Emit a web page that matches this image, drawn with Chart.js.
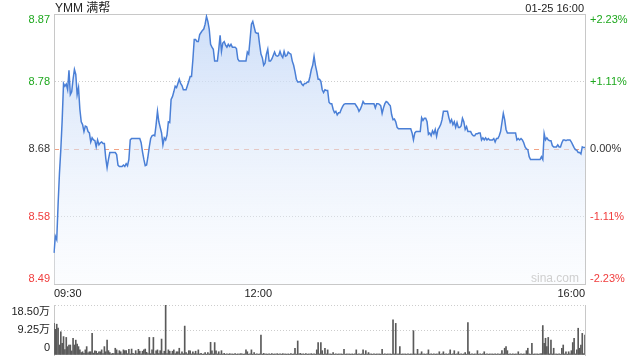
<!DOCTYPE html>
<html><head><meta charset="utf-8">
<script src="https://cdn.jsdelivr.net/npm/chart.js@4.4.1/dist/chart.umd.min.js"></script>
<style>
html,body{margin:0;padding:0;background:#fff;width:640px;height:360px;overflow:hidden;}
#wrap{position:relative;width:640px;height:360px;font-family:"Liberation Sans",Arial,"Noto Sans CJK SC",sans-serif;}
.t{position:absolute;white-space:nowrap;}
</style></head><body>
<div id="wrap">
<canvas id="pc" width="640" height="300" style="position:absolute;left:0;top:0;"></canvas>
<canvas id="vc" width="640" height="64" style="position:absolute;left:0;top:296px;"></canvas>
<div class="t" style="left:55px;top:1px;font-size:12px;line-height:14px;color:#222;">YMM 满帮</div>
<div class="t" style="right:56px;top:1px;font-size:11px;line-height:14px;color:#222;">01-25 16:00</div>
<div class="t" style="left:531px;top:271px;font-size:12px;line-height:14px;color:#cfcfcf;">sina.com</div>
</div>
<script>
// ---- data ----
const symbol = 'YMM 满帮';
const prevClose = 8.68;
const pctRange = 2.23;
const priceTickLabels = ['8.49','8.58','8.68','8.78','8.87'];
const pctTickLabels = ['-2.23%','-1.11%','0.00%','+1.11%','+2.23%'];
const xTickLabels = {0:'09:30',150:'12:00',390:'16:00'};
const volTickValues = [0, 9.25, 18.5];
const volTickLabels = ['0','9.25万','18.50万'];

// one price per minute, 09:30 .. 16:00
const prices = [
8.531,8.555,8.550,8.600,8.645,8.679,8.721,8.774,8.770,8.773,
8.765,8.793,8.758,8.762,8.780,8.794,8.787,8.758,8.768,8.737,
8.719,8.715,8.705,8.713,8.712,8.705,8.703,8.690,8.696,8.693,
8.692,8.683,8.693,8.686,8.689,8.690,8.688,8.688,8.667,8.653,
8.665,8.675,8.675,8.675,8.675,8.675,8.672,8.657,8.655,8.655,
8.655,8.657,8.655,8.659,8.656,8.665,8.693,8.695,8.695,8.695,
8.695,8.695,8.695,8.695,8.689,8.676,8.665,8.656,8.657,8.669,
8.683,8.695,8.699,8.700,8.699,8.715,8.734,8.719,8.711,8.703,
8.686,8.696,8.693,8.700,8.719,8.718,8.751,8.755,8.762,8.770,
8.768,8.774,8.780,8.774,8.771,8.765,8.765,8.765,8.771,8.777,
8.784,8.784,8.808,8.837,8.837,8.834,8.834,8.844,8.847,8.850,
8.852,8.859,8.870,8.863,8.852,8.830,8.826,8.823,8.806,8.806,
8.806,8.823,8.843,8.820,8.832,8.834,8.829,8.826,8.830,8.827,
8.830,8.826,8.826,8.826,8.824,8.809,8.806,8.806,8.806,8.806,
8.806,8.806,8.819,8.816,8.837,8.859,8.863,8.855,8.847,8.846,
8.846,8.830,8.816,8.811,8.800,8.803,8.816,8.823,8.806,8.806,
8.809,8.814,8.819,8.814,8.813,8.814,8.820,8.814,8.811,8.820,
8.813,8.814,8.819,8.817,8.816,8.806,8.800,8.791,8.780,8.776,
8.776,8.777,8.773,8.771,8.774,8.774,8.776,8.776,8.784,8.794,
8.800,8.813,8.800,8.791,8.780,8.780,8.777,8.765,8.761,8.765,
8.764,8.764,8.747,8.745,8.745,8.737,8.732,8.734,8.729,8.732,
8.732,8.737,8.741,8.744,8.745,8.745,8.745,8.745,8.745,8.745,
8.745,8.745,8.742,8.739,8.734,8.737,8.742,8.748,8.745,8.745,
8.745,8.745,8.745,8.745,8.745,8.745,8.739,8.745,8.745,8.744,
8.742,8.731,8.739,8.745,8.748,8.747,8.744,8.742,8.729,8.722,
8.723,8.719,8.711,8.709,8.709,8.709,8.709,8.709,8.709,8.709,
8.709,8.709,8.709,8.703,8.693,8.703,8.705,8.705,8.705,8.705,
8.725,8.721,8.724,8.724,8.719,8.701,8.703,8.699,8.706,8.702,
8.708,8.698,8.708,8.711,8.715,8.722,8.734,8.734,8.734,8.734,
8.725,8.718,8.722,8.715,8.719,8.711,8.718,8.711,8.711,8.713,
8.724,8.719,8.708,8.712,8.705,8.705,8.705,8.701,8.699,8.699,
8.702,8.702,8.703,8.703,8.693,8.696,8.693,8.696,8.693,8.695,
8.693,8.693,8.693,8.695,8.690,8.695,8.695,8.699,8.705,8.718,
8.731,8.722,8.708,8.703,8.703,8.703,8.703,8.703,8.703,8.703,
8.693,8.695,8.693,8.695,8.693,8.689,8.683,8.680,8.679,8.669,
8.665,8.665,8.665,8.665,8.665,8.665,8.665,8.665,8.669,8.665,
8.702,8.693,8.696,8.693,8.692,8.692,8.685,8.683,8.683,8.683,
8.686,8.683,8.683,8.689,8.693,8.693,8.692,8.693,8.693,8.693,
8.690,8.686,8.682,8.679,8.678,8.675,8.675,8.673,8.683,8.682,
8.682
];

// volume per minute, in 万 shares
const volumes = [
11.7,9.5,11.4,10.0,3.7,8.6,4.3,6.8,2.0,6.5,
3.1,3.7,3.7,1.5,6.2,3.7,5.5,4.0,3.1,1.9,
0.9,1.2,0.6,1.9,3.1,0.8,1.2,1.2,8.0,0.7,
1.5,1.4,0.6,1.2,1.2,1.9,0.5,3.1,1.2,5.5,
1.6,0.9,0.4,0.6,0.5,2.5,1.9,0.5,1.6,1.2,
0.4,1.9,1.6,1.6,0.5,2.1,0.4,2.2,0.6,0.4,
1.6,0.5,2.1,1.4,0.4,1.4,1.9,2.2,1.0,0.5,
6.5,0.5,1.9,6.5,0.4,1.5,1.9,0.5,1.6,5.9,
0.5,1.4,18.5,0.5,1.9,1.4,0.4,1.4,1.9,0.5,
1.2,1.2,2.5,0.4,1.2,0.5,10.7,0.9,0.4,1.6,
1.5,0.4,1.2,0.5,1.4,0.4,1.9,0.4,0.6,0.3,
0.4,0.9,0.3,0.9,0.4,4.7,1.5,0.4,4.6,1.5,
0.4,1.2,0.3,1.6,0.3,0.6,0.3,0.4,0.3,0.5,
0.3,0.4,0.3,0.5,0.3,0.4,0.3,0.5,0.4,0.3,
0.4,1.9,1.2,0.3,0.4,1.9,0.3,0.9,0.3,0.4,
0.3,0.4,7.4,0.3,0.6,0.3,0.4,0.3,0.4,0.3,
0.5,0.3,0.4,0.3,0.5,0.3,0.4,0.3,0.5,0.3,
0.4,0.3,0.4,0.3,0.5,0.3,0.4,2.5,0.3,5.2,
0.4,0.6,0.3,0.4,0.3,0.5,0.3,0.4,0.3,0.5,
0.3,0.4,0.3,1.9,4.6,0.4,4.6,1.6,0.3,2.5,
0.4,1.9,0.3,0.4,0.3,0.9,0.3,0.4,0.3,0.4,
0.3,0.4,0.3,2.1,0.3,0.4,0.3,0.4,0.3,0.4,
0.3,0.4,1.9,0.3,0.4,0.3,0.4,1.9,0.3,1.6,
0.3,0.9,0.3,0.4,0.3,0.4,0.3,0.4,0.3,0.4,
0.3,2.1,0.3,0.4,0.3,0.4,0.3,0.4,0.3,13.0,
0.4,11.7,0.3,0.4,3.1,0.3,0.4,0.3,0.4,0.3,
0.4,0.3,0.4,0.3,9.0,0.4,0.3,2.1,0.3,0.4,
1.2,0.3,0.4,0.3,0.4,1.9,0.3,0.4,0.3,0.4,
0.3,0.4,0.3,1.2,0.3,0.4,1.2,0.3,0.4,0.3,
0.4,1.9,0.3,0.4,1.6,0.3,0.4,1.2,0.3,0.4,
0.3,0.4,0.9,0.3,12.0,1.2,0.3,0.4,0.3,0.4,
0.3,1.6,0.3,0.4,0.3,0.4,1.2,0.3,0.4,0.3,
0.4,0.3,0.4,0.3,0.4,0.3,0.4,0.3,0.4,1.6,
0.4,2.5,3.1,1.6,0.3,0.4,0.3,0.4,0.3,0.4,
0.3,1.2,0.3,0.4,0.3,0.4,0.3,1.6,2.5,0.4,
0.3,4.3,0.3,0.4,0.3,0.4,0.3,0.4,0.5,10.9,
4.3,6.2,3.1,6.5,0.4,5.5,0.4,2.5,0.3,0.4,
0.3,0.4,0.3,2.5,3.7,0.4,1.2,0.3,1.2,0.4,
1.6,4.6,6.2,0.4,1.9,9.9,2.5,3.7,8.0,0.5,
7.4
];

// ---- derived ----
const times = prices.map((_, i) => {
  const m = 9 * 60 + 30 + i;
  return String(Math.floor(m / 60)).padStart(2, '0') + ':' + String(m % 60).padStart(2, '0');
});
const yMin = prevClose * (1 - pctRange / 100);
const yMax = prevClose * (1 + pctRange / 100);
const tickValues = [-2, -1, 0, 1, 2].map(k => prevClose * (1 + k * pctRange / 200));
const tickColors = ['#f03c3c', '#f03c3c', '#333333', '#1ea81e', '#1ea81e'];
const FONT = '"Liberation Sans", Arial, "Noto Sans CJK SC", sans-serif';
const GRID = '#cdcdcd';
const BORDER = '#c8c8c8';

function shifted(label, i, n) {
  if (i === 0) return [label, ''];
  if (i === n - 1) return ['', label];
  return label;
}
function noEndPad(s) { s.paddingTop = 0; s.paddingBottom = 0; }

const pctx = document.getElementById('pc');
new Chart(pctx, {
  type: 'line',
  data: {
    labels: times,
    datasets: [{
      data: prices,
      borderColor: '#4a7fd6',
      borderWidth: 1.5,
      pointRadius: 0,
      tension: 0,
      fill: 'start',
      backgroundColor: (c) => {
        const ch = c.chart;
        const a = ch.chartArea;
        if (!a) return 'rgba(200,220,250,0.5)';
        const g = ch.ctx.createLinearGradient(0, a.top, 0, a.bottom);
        g.addColorStop(0, 'rgba(196,216,247,0.85)');
        g.addColorStop(1, 'rgba(240,245,253,0.25)');
        return g;
      }
    }]
  },
  options: {
    responsive: false,
    animation: false,
    layout: { padding: { top: 14, left: 0, right: 0, bottom: 0 } },
    plugins: { legend: { display: false }, tooltip: { enabled: false } },
    scales: {
      x: {
        type: 'category',
        offset: false,
        afterFit: s => { s.height = 16; },
        ticks: {
          autoSkip: false, maxRotation: 0, minRotation: 0, align: 'inner', padding: 3,
          color: '#222', font: { size: 11, family: FONT },
          callback: (v, i) => (xTickLabels[i] !== undefined ? xTickLabels[i] : (i % 30 === 0 ? '' : null))
        },
        grid: { drawTicks: false, color: c => (c.index % 30 === 0 ? GRID : 'rgba(0,0,0,0)') },
        border: { display: true, color: BORDER, dash: [1, 2] }
      },
      x2: {
        type: 'category', position: 'top', offset: false,
        afterFit: s => { s.height = 0; },
        ticks: { display: false },
        grid: { display: false },
        border: { display: true, color: BORDER }
      },
      y: {
        position: 'left', min: yMin, max: yMax,
        afterBuildTicks: s => { s.ticks = tickValues.map(v => ({ value: v })); },
        afterFit: s => { s.width = 54; noEndPad(s); },
        ticks: {
          autoSkip: false, padding: 4,
          font: { size: 11, family: FONT, lineHeight: 1 },
          color: c => tickColors[c.index],
          callback: (v, i) => shifted(priceTickLabels[i], i, priceTickLabels.length)
        },
        grid: { drawTicks: false, color: c => ((c.index === 1 || c.index === 3) ? GRID : 'rgba(0,0,0,0)') },
        border: { display: true, color: BORDER, dash: [1, 2] }
      },
      y2: {
        position: 'right', min: yMin, max: yMax,
        afterBuildTicks: s => { s.ticks = tickValues.map(v => ({ value: v })); },
        afterFit: s => { s.width = 55; noEndPad(s); },
        ticks: {
          autoSkip: false, padding: 5,
          font: { size: 11, family: FONT, lineHeight: 1 },
          color: c => tickColors[c.index],
          callback: (v, i) => shifted(pctTickLabels[i], i, pctTickLabels.length)
        },
        grid: { drawTicks: false, color: c => (c.index === 2 ? '#f2a283' : 'rgba(0,0,0,0)') },
        border: { display: true, color: BORDER, dash: [5, 5] }
      }
    }
  }
});

const vctx = document.getElementById('vc');
new Chart(vctx, {
  type: 'bar',
  data: {
    labels: times,
    datasets: [{
      data: volumes,
      backgroundColor: '#5a5a5a',
      barThickness: 1,
      borderWidth: 0
    }]
  },
  options: {
    responsive: false,
    animation: false,
    layout: { padding: { top: 9, left: 0, right: 0, bottom: 5 } },
    plugins: { legend: { display: false }, tooltip: { enabled: false } },
    scales: {
      x: { display: false, offset: false },
      y: {
        position: 'left', min: 0, max: 18.5,
        afterBuildTicks: s => { s.ticks = volTickValues.map(v => ({ value: v })); },
        afterFit: s => { s.width = 54; noEndPad(s); },
        ticks: {
          autoSkip: false, padding: 4, color: '#222',
          font: { size: 11, family: FONT, lineHeight: 1.2 },
          callback: (v, i) => shifted(volTickLabels[i], i, volTickLabels.length)
        },
        grid: { drawTicks: false, color: c => (c.index === 0 ? 'rgba(0,0,0,0)' : GRID) },
        border: { display: true, color: BORDER, dash: [1, 2] }
      },
      y2: {
        position: 'right',
        afterFit: s => { s.width = 55; noEndPad(s); },
        ticks: { display: false },
        grid: { display: false },
        border: { display: true, color: BORDER }
      }
    }
  }
});
</script>
</body></html>
